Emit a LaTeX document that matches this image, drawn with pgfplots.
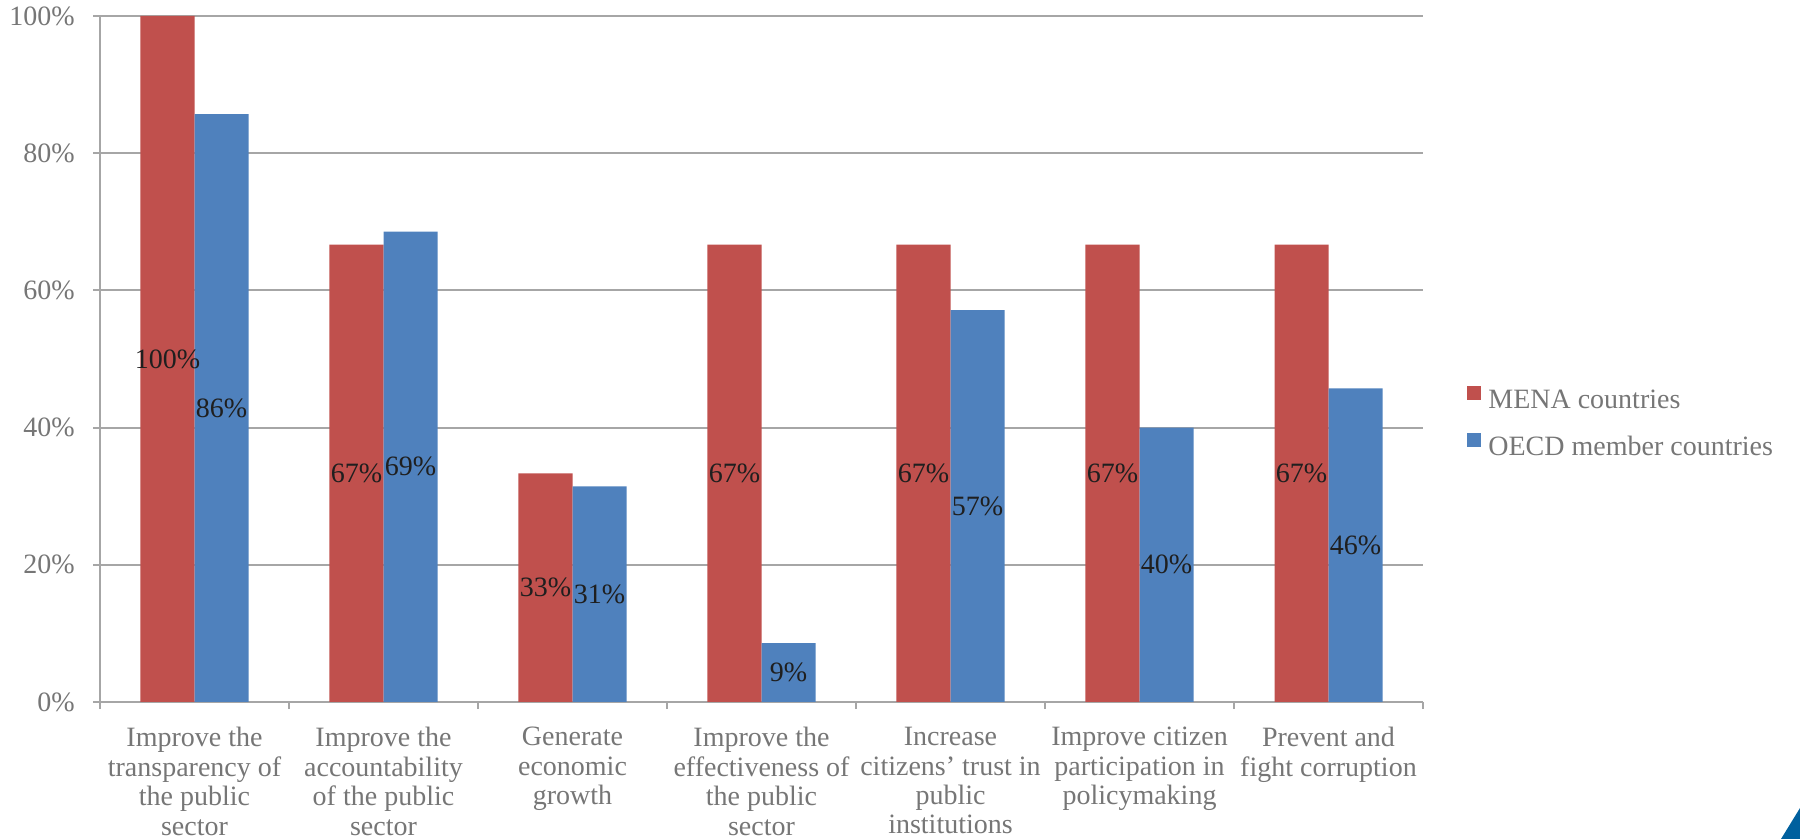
\documentclass[border=0pt]{standalone}
\usepackage{pgfplots}
\pgfplotsset{compat=1.18}
\usepackage{fontspec}
\setmainfont{Liberation Serif}
\definecolor{mred}{HTML}{C0504D}
\definecolor{mblue}{HTML}{4F81BD}
\definecolor{txtgray}{HTML}{767676}
\definecolor{gridgray}{HTML}{A6A6A6}
\definecolor{tri}{HTML}{00609E}
\definecolor{lbl}{HTML}{1F1F1F}
\newcommand{\ff}{\fontsize{14bp}{14.7bp}\selectfont}
\begin{document}
\begin{tikzpicture}
\path[use as bounding box] (0,0) rectangle (900bp,419.5bp);
\fill[tri] (890.5bp,0) -- (900bp,15.5bp) -- (900bp,0) -- cycle;
\begin{axis}[
  at={(50bp,68.5bp)}, anchor=south west,
  scale only axis, width=661.5bp, height=343bp,
  xmin=-0.5, xmax=6.5, ymin=0, ymax=100,
  ybar=0pt, bar width=27bp,
  axis x line*=bottom, axis y line*=left,
  axis line style={gridgray, line width=1bp, -},
  xtick={-0.5,0.5,1.5,2.5,3.5,4.5,5.5,6.5},
  x tick label as interval,
  xticklabels={{Improve the\\transparency of\\the public\\sector},
    {Improve the\\accountability\\of the public\\sector},
    {Generate\\economic\\growth},
    {Improve the\\effectiveness of\\the public\\sector},
    {Increase\\citizens’ trust in\\public\\institutions},
    {Improve citizen\\participation in\\policymaking},
    {Prevent and\\fight corruption}},
  ytick={0,20,40,60,80,100},
  yticklabel={\pgfmathprintnumber{\tick}\%},
  /pgf/number format/assume math mode=true,
  ymajorgrids, grid style={gridgray, line width=1bp},
  major tick length=3.5bp, tick align=outside,
  tick style={gridgray, line width=1bp},
  xticklabel style={font=\ff, text=txtgray, align=center, anchor=north, inner sep=0pt, yshift=-9bp},
  yticklabel style={font=\ff, text=txtgray, anchor=east, inner sep=0pt, xshift=-9bp},
  nodes near coords={\pgfmathprintnumber[fixed,precision=0]{\pgfplotspointmeta}\%},
  visualization depends on=rawy \as \rawy,
  every node near coord/.append style={anchor=center, yshift={-\rawy*1.715bp}, font=\ff, text=lbl, inner sep=0pt},
  legend style={at={(1,0.408)}, anchor=west, xshift=22bp, yshift=-1.2bp, draw=none, fill=none, font=\ff, text=txtgray,
    inner sep=0pt, row sep=8bp, column sep=2.5bp, nodes={text height=10bp, text depth=3bp, inner sep=1bp}},
  legend cell align=left,
  legend image code/.code={\fill[#1] (0bp,1bp) rectangle (7bp,8bp);},
]
\addplot[fill=mred, draw=none] coordinates {(0,100) (1,66.67) (2,33.33) (3,66.67) (4,66.67) (5,66.67) (6,66.67)};
\addplot[fill=mblue, draw=none] coordinates {(0,85.71) (1,68.57) (2,31.43) (3,8.57) (4,57.14) (5,40) (6,45.71)};
\legend{MENA countries, OECD member countries}
\end{axis}
\end{tikzpicture}
\end{document}
